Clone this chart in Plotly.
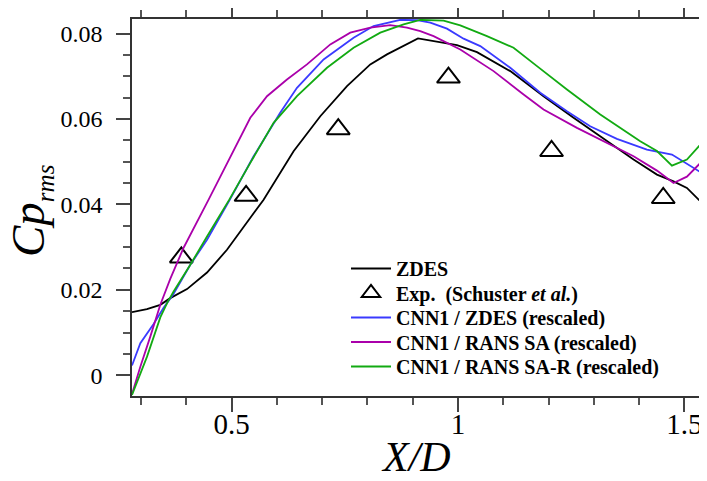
import plotly.graph_objects as go

# ---------------- data ----------------
zdes_x = [0.280, 0.313, 0.3425, 0.3645, 0.4015, 0.4457, 0.4898, 0.534, 0.5707, 0.6369, 0.6959,
          0.7549, 0.8063, 0.8432, 0.8799, 0.9117, 0.9978, 1.042, 1.1155, 1.189, 1.2553, 1.3143,
          1.3878, 1.4395, 1.4761, 1.5057, 1.539]
zdes_y = [0.01477, 0.01548, 0.01649, 0.01806, 0.02017, 0.02406, 0.02938, 0.03564, 0.04111, 0.05243,
          0.06064, 0.06768, 0.07277, 0.07511, 0.07706, 0.07886, 0.07729, 0.07565, 0.0712, 0.06533,
          0.06027, 0.05595, 0.05049, 0.04697, 0.0454, 0.04385, 0.04033]

exp_x = [0.389, 0.532, 0.7356, 0.979, 1.2067, 1.4534]
exp_y = [0.02758, 0.0420, 0.0576, 0.0697, 0.0525, 0.0415]

cnn_zdes_x = [0.280, 0.2984, 0.3277, 0.3498, 0.3719, 0.4088, 0.4457, 0.4962, 0.5486, 0.6073, 0.6444,
              0.7032, 0.7694, 0.8136, 0.8726, 0.9095, 0.9388, 0.9757, 1.0124, 1.0492, 1.1155, 1.1817,
              1.2407, 1.292, 1.351, 1.4173, 1.4726, 1.5057, 1.539]
cnn_zdes_y = [0.0023, 0.0075, 0.0120, 0.01578, 0.01907, 0.02587, 0.03173, 0.04111, 0.05126, 0.06144,
              0.0673, 0.07394, 0.07903, 0.08175, 0.0832, 0.08315, 0.08254, 0.08114, 0.07879, 0.07706,
              0.07199, 0.06613, 0.06181, 0.0583, 0.05534, 0.05283, 0.05166, 0.04955, 0.04732]

cnn_sa_x = [0.280, 0.2984, 0.3204, 0.3425, 0.3645, 0.394, 0.4492, 0.5119, 0.5413, 0.5782, 0.6223,
            0.6665, 0.718, 0.7621, 0.8063, 0.8505, 0.8874, 0.9167, 0.9461, 1.0051, 1.0786, 1.1449,
            1.189, 1.2628, 1.3291, 1.3878, 1.4395, 1.4761, 1.5057, 1.539]
cnn_sa_y = [-0.0044, 0.00202, 0.00905, 0.01650, 0.02258, 0.02985, 0.04111, 0.0544, 0.06027, 0.06533,
            0.06925, 0.07277, 0.07746, 0.0802, 0.08137, 0.08198, 0.08137, 0.08057, 0.0794, 0.07628,
            0.0712, 0.06573, 0.06221, 0.05792, 0.0544, 0.05126, 0.04791, 0.04502, 0.0465, 0.05009]

cnn_sar_x = [0.280, 0.3132, 0.3425, 0.3580, 0.3719, 0.4088, 0.4457, 0.4949, 0.5413, 0.5928, 0.6444,
             0.7107, 0.7694, 0.8284, 0.8799, 0.9167, 0.9682, 1.0051, 1.064, 1.1228, 1.1745, 1.2407,
             1.3143, 1.4026, 1.4395, 1.4726, 1.5057, 1.539]
cnn_sar_y = [-0.0046, 0.00436, 0.01355, 0.01700, 0.0196, 0.02587, 0.0325, 0.04111, 0.04971, 0.05909,
             0.06533, 0.07199, 0.07668, 0.0802, 0.08215, 0.0832, 0.08304, 0.08191, 0.0794, 0.07668,
             0.07237, 0.0669, 0.06104, 0.05478, 0.05248, 0.04908, 0.05049, 0.0544]

x_tickvals = [0.5, 1, 1.5]
x_ticktext = ["0.5", "1", "1.5"]
y_tickvals = [0, 0.02, 0.04, 0.06, 0.08]
y_ticktext = ["0", "0.02", "0.04", "0.06", "0.08"]

names = ["<b>ZDES</b>",
         "<b>Exp.\u00a0 (Schuster <i>et al.</i>)</b>",
         "<b>CNN1 / ZDES (rescaled)</b>",
         "<b>CNN1 / RANS SA (rescaled)</b>",
         "<b>CNN1 / RANS SA-R (rescaled)</b>"]

x_title = "<i>X/D</i>"
y_title = "<i>Cp</i><sub><span style='font-size:25px'><i>rms</i></span></sub>"

# ---------------- figure ----------------
SERIF = "Liberation Serif, Times New Roman, serif"
fig = go.Figure()
lw = 1.8
fig.add_trace(go.Scatter(x=zdes_x, y=zdes_y, mode="lines", name=names[0],
                         line=dict(color="#000000", width=lw), legend="legend"))
fig.add_trace(go.Scatter(x=exp_x, y=exp_y, mode="markers", name=names[1],
                         marker=dict(symbol="triangle-up-open", size=20, color="#000000",
                                     line=dict(width=2, color="#000000")), legend="legend2"))
fig.add_trace(go.Scatter(x=cnn_zdes_x, y=cnn_zdes_y, mode="lines", name=names[2],
                         line=dict(color="#3a3aff", width=lw), legend="legend3"))
fig.add_trace(go.Scatter(x=cnn_sa_x, y=cnn_sa_y, mode="lines", name=names[3],
                         line=dict(color="#aa00aa", width=lw), legend="legend4"))
fig.add_trace(go.Scatter(x=cnn_sar_x, y=cnn_sar_y, mode="lines", name=names[4],
                         line=dict(color="#12aa12", width=lw), legend="legend5"))

# the page places the figure 8 px from the top-left corner of the window
OFF = 8
W, H = 707 - OFF, 481 - OFF
ml, mr, mt, mb = 132 - OFF, 5, 19 - OFF, 85
plot_h = H - mt - mb
plot_w = W - ml - mr


def px_x(px):
    return (px - OFF - ml) / plot_w


def px_y(py):
    return (OFF + H - mb - py) / plot_h


row_y = [268.5, 293, 317.5, 342, 366.5]
legend_left_px = 346
legends = {}
for i, ry in enumerate(row_y):
    key = "legend" if i == 0 else f"legend{i+1}"
    legends[key] = dict(
        x=px_x(legend_left_px), xanchor="left",
        y=px_y(ry - 19.5), yanchor="top",
        bgcolor="rgba(0,0,0,0)", borderwidth=0, itemwidth=40,
        font=dict(family=SERIF, size=20, color="#000000"),
    )

axis_common = dict(
    showline=True, linecolor="#333333", linewidth=1.5,
    ticks="outside", ticklen=14, tickwidth=1.5, tickcolor="#444444",
    mirror="allticks", showgrid=False, zeroline=False, automargin=False,
)

fig.update_layout(
    width=W, height=H,
    margin=dict(l=ml, r=mr, t=mt, b=mb, autoexpand=False),
    paper_bgcolor="white", plot_bgcolor="white",
    showlegend=True,
    xaxis=dict(range=[0.28, 1.539], tickvals=x_tickvals, ticktext=x_ticktext,
               tickfont=dict(family=SERIF, size=29, color="#000000"),
               ticklabelstandoff=-13,
               minor=dict(dtick=0.1, tick0=0, ticks="outside", ticklen=7, tickwidth=1.5,
                          tickcolor="#555555", showgrid=False),
               **axis_common),
    yaxis=dict(range=[-0.00485, 0.0834], tickvals=y_tickvals, ticktext=y_ticktext,
               tickfont=dict(family=SERIF, size=24, color="#000000"),
               ticklabelstandoff=9,
               minor=dict(dtick=0.005, tick0=0, ticks="outside", ticklen=7, tickwidth=1.5,
                          tickcolor="#555555", showgrid=False),
               **axis_common),
    annotations=[
        dict(text=x_title, xref="paper", yref="paper",
             x=px_x(416), y=px_y(457),
             xanchor="center", yanchor="middle", showarrow=False,
             font=dict(family=SERIF, size=42, color="#000000")),
        dict(text=y_title, xref="paper", yref="paper", textangle=-90,
             x=px_x(30), y=px_y(211),
             xanchor="center", yanchor="middle", showarrow=False,
             font=dict(family=SERIF, size=47, color="#000000")),
    ],
    **legends,
)

fig.write_html("out.html")
